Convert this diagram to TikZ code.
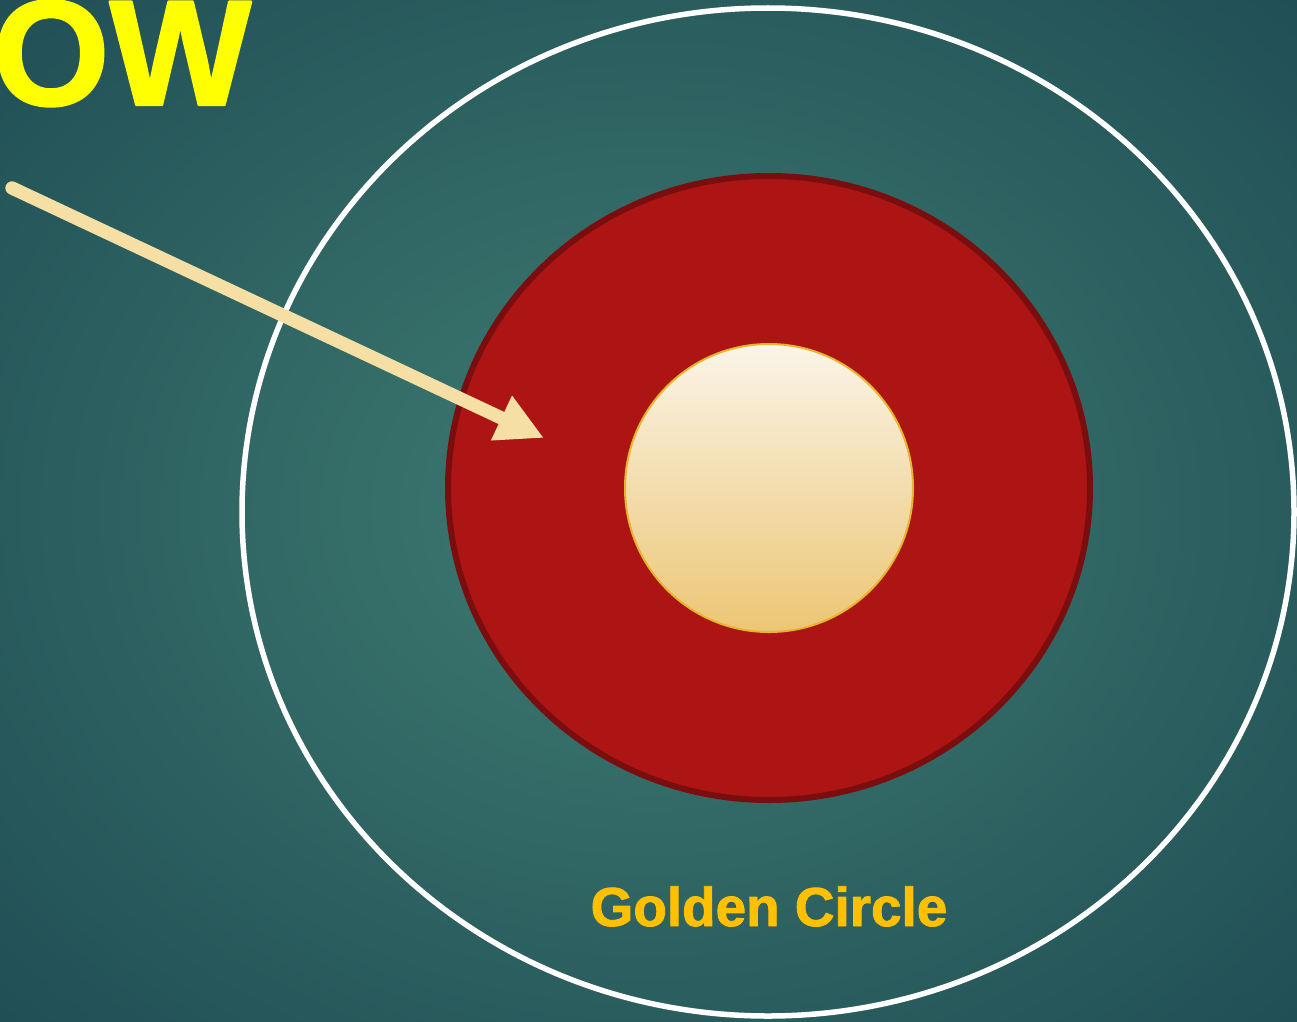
\documentclass[tikz,border=0pt]{standalone}
\usepackage{fontspec}
\setmainfont{Liberation Sans}
\newfontfamily\heavyfont[FakeBold=1.6]{Liberation Sans Bold}
\usepackage{tikz}
\usetikzlibrary{arrows.meta, positioning, calc}
\definecolor{gcdeep}{HTML}{1D4A52}
\definecolor{gcteal}{HTML}{3F7C72}
\definecolor{gcred}{HTML}{AD1515}
\definecolor{gcdark}{HTML}{7A0D0D}
\definecolor{gccream}{HTML}{F5DFA4}
\definecolor{gctop}{HTML}{FAF4E8}
\definecolor{gcbottom}{HTML}{ECC674}
\definecolor{gcrim}{HTML}{E6B52E}
\definecolor{gcgold}{HTML}{FFC000}
\definecolor{gcyellow}{HTML}{FFFF00}

\begin{document}
\begin{tikzpicture}[x={(0.01cm,0cm)}, y={(0cm,-0.01cm)}, line join=round]
  \useasboundingbox (0,0) rectangle (1297,1021);
  % backdrop
  \shade[inner color=gcteal, outer color=gcdeep] (-350,-300) rectangle (1650,1320);
  % (1) outer ring
  \draw[white, line width=0.55mm] (768,512) ellipse (526 and 504);
  % (2) red disc
  \draw[gcdark, fill=gcred, line width=0.6mm] (769,488) ellipse (321 and 312);
  % (3) core
  \shade[top color=gctop, bottom color=gcbottom] (769,488) circle (144);
  \draw[gcrim, line width=0.2mm] (769,488) circle (144);
  % pointer
  \coordinate (arrowstart) at (12,188);
  \coordinate (arrowtip) at (544,438);
  \draw[gccream, line width=3.8pt, line cap=round,
        -{Triangle[length=4.7mm, width=4.6mm]}] (arrowstart) -- (arrowtip);
  % labels
  \node[anchor=base west, inner sep=0pt, text=gcyellow,
        font=\fontsize{42.7}{50}\selectfont\heavyfont] (howtext) at (-8,105) {OW};
  \node[anchor=base, inner sep=0pt, text=gcgold,
        font=\fontsize{15.6}{20}\selectfont\heavyfont] (circletext) at (769,926) {Golden Circle};
\end{tikzpicture}
\end{document}
